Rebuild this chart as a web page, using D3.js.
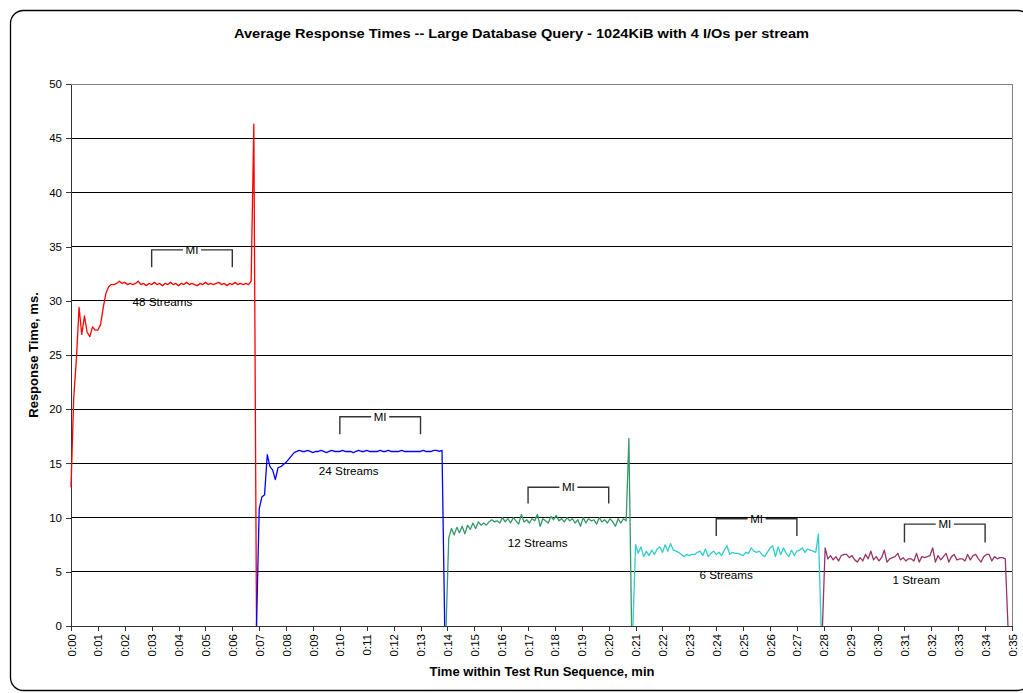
<!DOCTYPE html>
<html>
<head>
<meta charset="utf-8">
<script src="https://cdn.jsdelivr.net/npm/d3@7/dist/d3.min.js"></script>
<style>
  html, body { margin: 0; padding: 0; background: #fff; }
  svg { display: block; font-family: Arial, "Liberation Sans", sans-serif; }
</style>
</head>
<body>
<svg id="chart" width="1023" height="693"></svg>
<script>
// ---------------- DATA ----------------
const titleText = "Average Response Times -- Large Database Query - 1024KiB with 4 I/Os per stream";
const xAxisTitle = "Time within Test Run Sequence, min";
const yAxisTitle = "Response Time, ms.";

const yTicks = [0, 5, 10, 15, 20, 25, 30, 35, 40, 45, 50];
const xTickValues = [0,1,2,3,4,5,6,7,8,9,10,11,12,13,14,15,16,17,18,19,20,21,22,23,24,25,26,27,28,29,30,31,32,33,34,35];
const xTickLabels = ["0:00","0:01","0:02","0:03","0:04","0:05","0:06","0:07","0:08","0:09",
  "0:10","0:11","0:12","0:13","0:14","0:15","0:16","0:17","0:18","0:19",
  "0:20","0:21","0:22","0:23","0:24","0:25","0:26","0:27","0:28","0:29",
  "0:30","0:31","0:32","0:33","0:34","0:35"];

const seriesNames = ["48 Streams", "24 Streams", "12 Streams", "6 Streams", "1 Stream"];
const seriesColors = ["#FF0000", "#0000FF", "#339966", "#33CCCC", "#993366"];
const seriesStart = [0, 6.9, 13.95, 20.9, 27.95];   // minutes of first sample
const sampleStep = 0.1;                               // minutes between samples

const stream48 = [12.8, 21.0, 24.6, 29.4, 26.9, 28.6, 27.1, 26.7, 27.6, 27.3, 27.3, 27.8, 29.4, 30.7, 31.3,
  31.5,31.5,31.6,31.8,31.6,31.7,31.5,31.6,31.5,31.6,
  31.8,31.5,31.6,31.4,31.6,31.5,31.7,31.5,31.6,31.4,
  31.6,31.5,31.7,31.5,31.6,31.4,31.6,31.5,31.7,31.5,
  31.6,31.5,31.4,31.6,31.5,31.7,31.5,31.6,31.5,31.6,
  31.7,31.5,31.6,31.4,31.6,31.5,31.7,31.5,31.6,31.5,
  31.6,31.5,31.8,
  46.3, 0];

const stream24 = [0, 10.8, 11.9, 12.1, 15.8, 14.7, 14.4, 13.5, 14.6, 14.7, 14.9, 15.1, 15.4, 15.7, 16.0,
  16.1,16.2,16.1,16.1,16.2,16.1,16.0,16.1,16.1,16.2,
  16.1,16.0,16.1,16.2,16.1,16.1,16.1,16.2,16.1,16.1,
  16.1,16.0,16.1,16.2,16.1,16.1,16.2,16.1,16.1,16.1,
  16.1,16.2,16.1,16.1,16.2,16.1,16.1,16.1,16.1,16.2,
  16.1,16.1,16.1,16.1,16.1,16.1,16.1,16.2,16.1,16.1,
  16.1,16.2,16.2,16.1,16.2,
  0];

const stream12 = [0,
  8.1,9.0,8.4,9.1,8.6,9.2,8.5,9.3,8.9,9.5,
  9.0,9.6,9.3,9.5,9.3,9.6,9.8,9.6,9.7,9.5,
  10.0,9.6,9.9,9.5,10.0,9.7,9.4,10.3,9.6,9.8,
  9.5,9.9,9.7,10.3,9.2,9.9,9.7,9.5,10.1,9.8,
  10.2,9.7,9.9,9.6,10.0,9.7,9.9,9.5,9.8,9.2,
  10.0,9.5,9.9,9.7,9.8,9.4,10.0,9.6,9.8,9.5,
  9.9,9.6,9.2,9.9,9.5,9.9,9.7,
  17.3, 0];

const stream6 = [0,
  7.5,6.7,7.3,6.4,6.9,6.5,7.0,6.6,7.1,7.3,
  6.8,7.5,6.9,7.6,7.0,6.9,6.8,6.6,6.4,6.6,
  6.5,6.6,6.6,6.8,6.9,6.5,7.1,6.4,6.7,6.9,
  6.6,6.8,6.5,7.0,7.4,6.6,6.8,6.7,6.7,6.6,
  6.5,6.8,6.7,7.2,6.9,6.8,6.9,6.6,6.4,6.8,
  7.2,7.4,6.4,7.3,6.6,7.2,6.7,6.4,7.0,6.5,
  6.9,7.0,7.2,6.8,7.1,7.0,6.9,6.8,
  8.5, 0];

const stream1 = [0,
  7.2,6.2,6.5,6.1,6.4,6.0,6.5,6.6,6.6,6.3,
  6.5,6.1,5.9,6.3,6.0,6.6,6.2,6.9,6.1,6.4,
  6.0,6.3,7.0,5.9,6.2,6.3,6.4,6.7,6.1,6.3,
  6.0,6.2,6.2,6.0,6.7,5.9,6.4,6.3,6.4,6.5,
  7.2,5.9,6.5,6.1,6.4,6.7,5.9,6.4,6.6,6.1,
  6.2,6.2,6.0,6.6,6.1,6.5,6.6,6.2,5.9,6.4,
  6.6,6.6,6.0,6.4,6.2,6.3,6.3,6.2,
  0];

const seriesValues = [stream48, stream24, stream12, stream6, stream1];

// "MI" (measurement interval) brackets, in minutes / ms
const miLabel = "MI";
const miStart = [3, 10, 17, 24, 31];
const miEnd = [6, 13, 20, 27, 34];
const miTop = [34.7, 19.3, 12.8, 9.9, 9.4];
const miBottom = [33.1, 17.7, 11.3, 8.3, 7.7];

// stream label anchors (minute, ms)
const labelT = [3.40, 10.33, 17.36, 24.37, 31.44];
const labelV = [29.92, 14.3, 7.63, 4.70, 4.24];

// ---------------- CHART ----------------
const svg = d3.select("#chart");
const plot = { left: 71, right: 1012, top: 84, bottom: 626 };

const x = d3.scaleLinear().domain([0, 35]).range([plot.left, plot.right]);
const y = d3.scaleLinear().domain([0, 50]).range([plot.bottom, plot.top]);

// outer frame
svg.append("rect")
  .attr("x", 10.5).attr("y", 10.5)
  .attr("width", 1020).attr("height", 680)
  .attr("rx", 13).attr("ry", 13)
  .attr("fill", "#fff").attr("stroke", "#000").attr("stroke-width", 1.3);

// title
svg.append("text")
  .attr("x", 521.5).attr("y", 38)
  .attr("text-anchor", "middle")
  .attr("font-size", "13px").attr("font-weight", "bold")
  .attr("textLength", 575).attr("lengthAdjust", "spacingAndGlyphs")
  .text(titleText);

// gridlines
svg.append("g").selectAll("line")
  .data(yTicks.filter(d => d > 0 && d < 50))
  .join("line")
  .attr("x1", plot.left).attr("x2", plot.right)
  .attr("y1", d => y(d)).attr("y2", d => y(d))
  .attr("stroke", "#000").attr("stroke-width", 1)
  .attr("shape-rendering", "crispEdges");

// plot border top & right
svg.append("path")
  .attr("d", `M${plot.left},${y(50)}H${plot.right}V${plot.bottom}`)
  .attr("fill", "none").attr("stroke", "#808080").attr("stroke-width", 1)
  .attr("shape-rendering", "crispEdges");

// y axis
const yAxis = svg.append("g")
  .attr("transform", `translate(${plot.left},0)`)
  .call(d3.axisLeft(y).tickValues(yTicks).tickSize(5).tickSizeOuter(0).tickPadding(4));
yAxis.selectAll("text").attr("font-size", "11.5px").attr("fill", "#000").attr("font-family", "Arial, 'Liberation Sans', sans-serif");
yAxis.selectAll("line, path").attr("stroke", "#333").attr("shape-rendering", "crispEdges");

// x axis
const xAxis = svg.append("g")
  .attr("transform", `translate(0,${plot.bottom})`)
  .call(d3.axisBottom(x).tickValues(xTickValues).tickFormat((d, i) => xTickLabels[i]).tickSize(5).tickSizeOuter(0));
xAxis.selectAll("text")
  .attr("font-size", "11.5px").attr("fill", "#000").attr("font-family", "Arial, 'Liberation Sans', sans-serif")
  .attr("transform", "rotate(-90)")
  .attr("text-anchor", "end")
  .attr("x", -8).attr("y", 0).attr("dy", "0.35em");
xAxis.selectAll("line, path").attr("stroke", "#333").attr("shape-rendering", "crispEdges");

// axis titles
svg.append("text")
  .attr("x", 542).attr("y", 676)
  .attr("text-anchor", "middle")
  .attr("font-size", "13px").attr("font-weight", "bold")
  .text(xAxisTitle);

svg.append("text")
  .attr("transform", `translate(38,${(plot.top + plot.bottom) / 2}) rotate(-90)`)
  .attr("text-anchor", "middle")
  .attr("font-size", "13px").attr("font-weight", "bold")
  .text(yAxisTitle);

// series lines
const line = d3.line().x(d => x(d.t)).y(d => y(d.v));
seriesValues.forEach((vals, si) => {
  const pts = vals.map((v, i) => ({ t: seriesStart[si] + i * sampleStep, v }));
  svg.append("path")
    .datum(pts)
    .attr("d", line)
    .attr("fill", "none")
    .attr("stroke", seriesColors[si])
    .attr("stroke-width", 1.3)
    .attr("stroke-linejoin", "round");
});

// MI brackets
const gap = 9;
miStart.forEach((s, i) => {
  const x0 = x(s), x1 = x(miEnd[i]), xm = (x0 + x1) / 2;
  const yt = y(miTop[i]), yb = y(miBottom[i]);
  const g = svg.append("g");
  g.append("path")
    .attr("d", `M${x0},${yb}V${yt}H${xm - gap}M${xm + gap},${yt}H${x1}V${yb}`)
    .attr("fill", "none").attr("stroke", "#333").attr("stroke-width", 1.4);
  g.append("text")
    .attr("x", xm).attr("y", yt)
    .attr("dy", "0.35em")
    .attr("text-anchor", "middle")
    .attr("font-size", "11.5px")
    .text(miLabel);
});

// stream labels
seriesNames.forEach((name, i) => {
  svg.append("text")
    .attr("x", x(labelT[i])).attr("y", y(labelV[i]))
    .attr("dy", "0.35em")
    .attr("text-anchor", "middle")
    .attr("font-size", "11.7px")
    .text(name);
});
</script>
</body>
</html>
